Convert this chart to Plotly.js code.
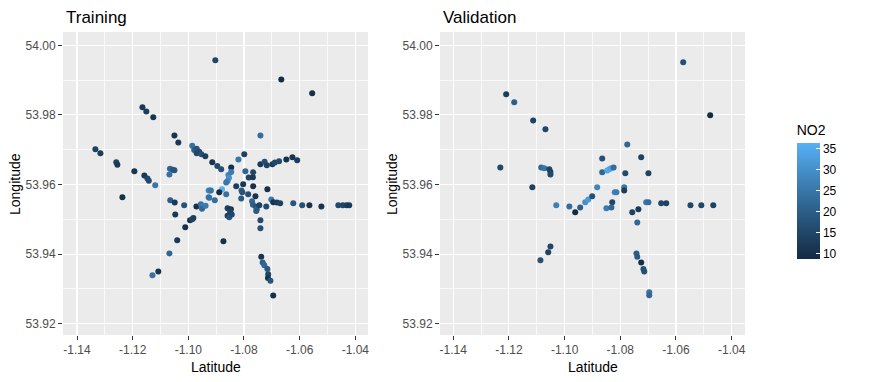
<!DOCTYPE html>
<html>
<head>
<meta charset="utf-8">
<script src="https://cdn.plot.ly/plotly-3.0.1.min.js"></script>
<style>
  html, body { margin: 0; padding: 0; background: #fff; }
  #chart { width: 884px; height: 382px; }
</style>
</head>
<body>
<div id="chart"></div>
<script>
// training set: x = longitude (labelled "Latitude"), y = latitude (labelled "Longitude")
const trainLon = [
  -1.1334, -1.1316, -1.1165, -1.1151, -1.1126, -1.1050, -1.1036, -1.0986, -1.0979, -1.0970,
  -1.0961, -1.0970, -1.0953, -1.0939, -1.0903, -1.0666, -1.0555, -1.0741, -1.0799, -1.0820,
  -1.0648, -1.0626, -1.0609, -1.1259, -1.1255, -1.1194, -1.1158, -1.1147, -1.1142, -1.1119,
  -1.1237, -1.1066, -1.1056, -1.1050, -1.1068, -1.1065, -1.1049, -1.1015, -1.1047, -1.1011,
  -1.0994, -1.0982, -1.0986, -1.1040, -1.1068, -1.1108, -1.1129, -1.0971, -1.0955, -1.0946,
  -1.0951, -1.0938, -1.0927, -1.0927, -1.0914, -1.0896, -1.0882, -1.0846, -1.0856, -1.0854,
  -1.0859, -1.0864, -1.0846, -1.0879, -1.0889, -1.0922, -1.0919, -1.0925, -1.0905, -1.0864,
  -1.0828, -1.0803, -1.0809, -1.0806, -1.0810, -1.0785, -1.0759, -1.0795, -1.0783, -1.0768,
  -1.0767, -1.0767, -1.0741, -1.0726, -1.0718, -1.0698, -1.0689, -1.0674, -1.0716, -1.0771,
  -1.0768, -1.0757, -1.0754, -1.0756, -1.0745, -1.0720, -1.0702, -1.0695, -1.0682, -1.0670,
  -1.0623, -1.0591, -1.0565, -1.0522, -1.0461, -1.0445, -1.0431, -1.0422, -1.0859, -1.0847,
  -1.0850, -1.0859, -1.0853, -1.0844, -1.0741, -1.0741, -1.0874, -1.0738, -1.0733, -1.0727,
  -1.0716, -1.0713, -1.0714, -1.0705, -1.0695
];
const trainLat = [
  53.9701, 53.9690, 53.9822, 53.9810, 53.9793, 53.9741, 53.9721, 53.9711, 53.9699, 53.9703,
  53.9694, 53.9690, 53.9687, 53.9681, 53.9957, 53.9902, 53.9862, 53.9741, 53.9687, 53.9672,
  53.9672, 53.9678, 53.9670, 53.9664, 53.9657, 53.9638, 53.9626, 53.9617, 53.9611, 53.9598,
  53.9563, 53.9645, 53.9642, 53.9641, 53.9629, 53.9555, 53.9548, 53.9540, 53.9514, 53.9477,
  53.9497, 53.9504, 53.9500, 53.9440, 53.9402, 53.9350, 53.9339, 53.9537, 53.9543, 53.9537,
  53.9530, 53.9539, 53.9583, 53.9563, 53.9664, 53.9653, 53.9644, 53.9649, 53.9627, 53.9619,
  53.9610, 53.9606, 53.9636, 53.9586, 53.9578, 53.9583, 53.9583, 53.9562, 53.9555, 53.9572,
  53.9595, 53.9601, 53.9583, 53.9578, 53.9560, 53.9572, 53.9566, 53.9638, 53.9620, 53.9621,
  53.9635, 53.9595, 53.9658, 53.9665, 53.9655, 53.9658, 53.9663, 53.9667, 53.9586, 53.9552,
  53.9542, 53.9536, 53.9529, 53.9524, 53.9540, 53.9537, 53.9557, 53.9549, 53.9548, 53.9546,
  53.9546, 53.9540, 53.9540, 53.9537, 53.9540, 53.9540, 53.9540, 53.9540, 53.9532, 53.9529,
  53.9523, 53.9510, 53.9506, 53.9514, 53.9497, 53.9474, 53.9437, 53.9392, 53.9376, 53.9368,
  53.9357, 53.9342, 53.9331, 53.9323, 53.9281
];
const trainNO2 = [
  14, 13, 12, 13, 11, 11, 12, 24, 20, 18,
  16, 15, 17, 13, 15, 9, 10, 23, 14, 25,
  10, 11, 13, 14, 12, 11, 12, 15, 16, 25,
  10, 22, 19, 18, 24, 20, 12, 18, 12, 10,
  11, 13, 14, 12, 22, 11, 24, 10, 24, 28,
  22, 26, 28, 26, 11, 16, 17, 10, 27, 30,
  28, 25, 26, 36, 9, 27, 25, 24, 23, 24,
  13, 12, 20, 18, 19, 17, 11, 22, 15, 12,
  15, 10, 12, 17, 14, 13, 15, 16, 10, 22,
  20, 18, 21, 19, 14, 16, 26, 11, 13, 14,
  18, 17, 11, 11, 16, 15, 13, 12, 13, 11,
  14, 12, 18, 15, 16, 17, 10, 11, 20, 22,
  19, 15, 11, 18, 10
];

// validation set
const valLon = [
  -1.1210, -1.1181, -1.1113, -1.1069, -1.0574, -1.0477, -1.0775, -1.0725, -1.0865, -1.1231,
  -1.1084, -1.1073, -1.1055, -1.1051, -1.1051, -1.1116, -1.1030, -1.0983, -1.0962, -1.0944,
  -1.0926, -1.0915, -1.0901, -1.0883, -1.0865, -1.0847, -1.0840, -1.0833, -1.0824, -1.0782,
  -1.0699, -1.0786, -1.0786, -1.0820, -1.0814, -1.0829, -1.0850, -1.0832, -1.0757, -1.0735,
  -1.0707, -1.0699, -1.0653, -1.0635, -1.0739, -1.0548, -1.0509, -1.0466, -1.0742, -1.0739,
  -1.0725, -1.0717, -1.0714, -1.0696, -1.0696, -1.1051, -1.1059, -1.1087
];
const valLat = [
  53.9859, 53.9836, 53.9784, 53.9759, 53.9951, 53.9799, 53.9715, 53.9678, 53.9675, 53.9649,
  53.9649, 53.9647, 53.9644, 53.9636, 53.9629, 53.9592, 53.9540, 53.9537, 53.9520, 53.9534,
  53.9549, 53.9557, 53.9566, 53.9592, 53.9635, 53.9640, 53.9644, 53.9647, 53.9649, 53.9632,
  53.9632, 53.9592, 53.9583, 53.9578, 53.9578, 53.9549, 53.9532, 53.9534, 53.9520, 53.9529,
  53.9549, 53.9549, 53.9546, 53.9546, 53.9491, 53.9540, 53.9540, 53.9540, 53.9402, 53.9392,
  53.9376, 53.9357, 53.9350, 53.9290, 53.9282, 53.9422, 53.9405, 53.9382
];
const valNO2 = [
  13, 20, 14, 15, 17, 9, 22, 14, 17, 15,
  22, 25, 15, 14, 16, 14, 27, 23, 9, 20,
  30, 32, 17, 28, 22, 34, 35, 33, 23, 16,
  14, 25, 13, 28, 26, 15, 26, 22, 14, 12,
  25, 23, 15, 14, 22, 15, 15, 14, 20, 19,
  10, 18, 17, 24, 22, 15, 14, 17
];

const xTicks = [-1.14, -1.12, -1.10, -1.08, -1.06, -1.04];
const xTickText = ['-1.14', '-1.12', '-1.10', '-1.08', '-1.06', '-1.04'];
const yTicks = [53.92, 53.94, 53.96, 53.98, 54.00];
const yTickText = ['53.92', '53.94', '53.96', '53.98', '54.00'];
const cbTicks = [10, 15, 20, 25, 30, 35];

const font = 'Liberation Sans, Arial, sans-serif';

const points = (x, y, c, xa, ya) => ({
  type: 'scatter',
  mode: 'markers',
  x, y,
  xaxis: xa,
  yaxis: ya,
  hoverinfo: 'skip',
  showlegend: false,
  marker: { size: 6, color: c, coloraxis: 'coloraxis', line: { width: 0 } }
});

const xAxis = (domain, range) => ({
  domain, range,
  tickmode: 'array', tickvals: xTicks, ticktext: xTickText,
  ticks: 'outside', ticklen: 4, tickwidth: 1, tickcolor: '#333333',
  tickfont: { family: font, size: 12, color: '#4d4d4d' },
  showgrid: true, gridcolor: '#ffffff', gridwidth: 1.1,
  minor: { tickmode: 'linear', tick0: -1.15, dtick: 0.02, showgrid: true, gridcolor: '#ffffff', gridwidth: 0.7, ticks: '' },
  zeroline: false, showline: false, fixedrange: true
});

const yAxis = (domain, range, anchor) => ({
  domain, range, anchor,
  tickmode: 'array', tickvals: yTicks, ticktext: yTickText,
  ticks: 'outside', ticklen: 4, tickwidth: 1, tickcolor: '#333333',
  tickfont: { family: font, size: 12, color: '#4d4d4d' },
  showgrid: true, gridcolor: '#ffffff', gridwidth: 1.1,
  minor: { tickmode: 'linear', tick0: 53.91, dtick: 0.02, showgrid: true, gridcolor: '#ffffff', gridwidth: 0.7, ticks: '' },
  zeroline: false, showline: false, fixedrange: true
});

const yDom = [0.1230, 0.9162];
const yRange = [53.91674, 54.00382];

const layout = {
  width: 884,
  height: 382,
  margin: { l: 0, r: 0, t: 0, b: 0 },
  paper_bgcolor: '#ffffff',
  plot_bgcolor: '#ebebeb',
  font: { family: font },
  xaxis: Object.assign(xAxis([0.0713, 0.4163], [-1.14503, -1.03544]), { anchor: 'y' }),
  yaxis: yAxis(yDom, yRange, 'x'),
  xaxis2: Object.assign(xAxis([0.4977, 0.8428], [-1.14478, -1.03519]), { anchor: 'y2' }),
  yaxis2: yAxis(yDom, yRange, 'x2'),
  coloraxis: {
    cmin: 8.8,
    cmax: 36.4,
    colorscale: [
      [0, '#132B43'], [0.25, '#22496C'], [0.5, '#336A98'], [0.75, '#448DC6'], [1, '#56B1F7']
    ],
    colorbar: {
      title: { text: 'NO2', side: 'top', font: { family: font, size: 14, color: '#000000' } },
      x: 0.9012, xanchor: 'left', xpad: 0,
      y: 1 - 190 / 382, yanchor: 'middle', ypad: 0,
      len: 137, lenmode: 'pixels',
      thickness: 23, thicknessmode: 'pixels',
      outlinewidth: 0,
      tickmode: 'array', tickvals: cbTicks, ticktext: cbTicks.map(String),
      ticks: 'inside', ticklen: 4, tickcolor: '#ffffff', tickwidth: 1,
      ticklabelpad: 6,
      tickfont: { family: font, size: 12, color: '#000000' }
    }
  },
  annotations: [
    { text: 'Training', xref: 'paper', yref: 'paper', x: 64 / 884, y: 1 - 17 / 382, xanchor: 'left', yanchor: 'middle', showarrow: false, font: { family: font, size: 17, color: '#000000' } },
    { text: 'Validation', xref: 'paper', yref: 'paper', x: 441 / 884, y: 1 - 17 / 382, xanchor: 'left', yanchor: 'middle', showarrow: false, font: { family: font, size: 17, color: '#000000' } },
    { text: 'Latitude', xref: 'paper', yref: 'paper', x: 216 / 884, y: 1 - 367 / 382, xanchor: 'center', yanchor: 'middle', showarrow: false, font: { family: font, size: 14, color: '#000000' } },
    { text: 'Latitude', xref: 'paper', yref: 'paper', x: 593 / 884, y: 1 - 367 / 382, xanchor: 'center', yanchor: 'middle', showarrow: false, font: { family: font, size: 14, color: '#000000' } },
    { text: 'Longitude', xref: 'paper', yref: 'paper', x: 15 / 884, y: 1 - 184 / 382, xanchor: 'center', yanchor: 'middle', textangle: -90, showarrow: false, font: { family: font, size: 14, color: '#000000' } },
    { text: 'Longitude', xref: 'paper', yref: 'paper', x: 392 / 884, y: 1 - 184 / 382, xanchor: 'center', yanchor: 'middle', textangle: -90, showarrow: false, font: { family: font, size: 14, color: '#000000' } }
  ]
};

const data = [
  points(trainLon, trainLat, trainNO2, 'x', 'y'),
  points(valLon, valLat, valNO2, 'x2', 'y2')
];

Plotly.newPlot('chart', data, layout, { staticPlot: true, displayModeBar: false });
</script>
</body>
</html>
